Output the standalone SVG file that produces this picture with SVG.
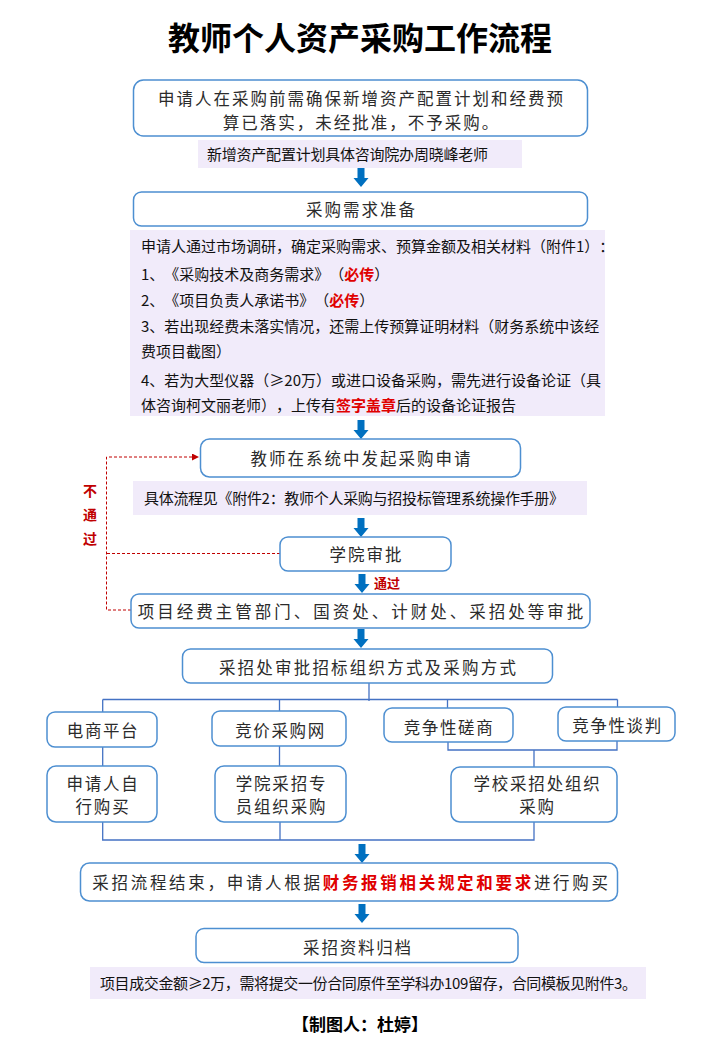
<svg xmlns="http://www.w3.org/2000/svg" width="720" height="1040" viewBox="0 0 720 1040">
<defs>
<style>
text{text-spacing-trim:space-all}
.box{fill:#fff;stroke:#4d8fd1;stroke-width:1.5}
.note{fill:#f1ebfa}
.lbl{font-family:"Noto Sans CJK SC","Noto Sans",sans-serif;font-size:16.5px;fill:#2b2b2b;letter-spacing:2px;text-anchor:middle}
.nt{font-family:"Noto Sans CJK SC","Noto Sans",sans-serif;font-size:15px;fill:#111}
.red{fill:#e00000;font-weight:bold}
.ln{fill:none;stroke:#4472c4;stroke-width:1.3}
.dash{fill:none;stroke:#c00000;stroke-width:1;stroke-dasharray:3 2}
.ba{fill:#0070c0}
.title{font-family:"Noto Sans CJK SC","Noto Sans",sans-serif;font-size:32px;font-weight:bold;fill:#000;text-anchor:middle}
.rt{font-family:"Noto Sans CJK SC","Noto Sans",sans-serif;font-weight:bold;fill:#c00000;text-anchor:middle}
</style>
<path id="ba" d="M-3.5,0H3.5V10H7.5L0,19L-7.5,10H-3.5Z"/>
<marker id="rh" viewBox="0 0 10 10" refX="10" refY="5" markerWidth="8" markerHeight="7" markerUnits="userSpaceOnUse" orient="auto">
<path d="M0,0L10,5L0,10Z" fill="#c00000"/>
</marker>
</defs>
<rect width="720" height="1040" fill="#fff"/>

<text class="title" x="360" y="50">教师个人资产采购工作流程</text>

<g id="connectors">
<use href="#ba" class="ba" x="361" y="168"/>
<use href="#ba" class="ba" x="361" y="420"/>
<use href="#ba" class="ba" x="361" y="518"/>
<use href="#ba" class="ba" x="362" y="574"/>
<use href="#ba" class="ba" x="361" y="629"/>
<use href="#ba" class="ba" x="362" y="844"/>
<use href="#ba" class="ba" x="362" y="904"/>
<text class="rt" x="387" y="587.5" font-size="13">通过</text>
<path class="ln" d="M369,683V701M102.7,699.5H617.5M102.7,699.5V712M279.5,699.5V711M447.5,699.5V708M617.5,699.5V707"/>
<path class="ln" d="M102.7,747V766M279.5,746V766M448,742V750H617V741M534,750V767"/>
<path class="ln" d="M102.7,822V840H534V822M280,822V840"/>
<path class="dash" d="M131,610H106.5V457H199" marker-end="url(#rh)"/>
<path class="dash" d="M280,553.5H106.5"/>
<text class="rt" x="90" y="496" font-size="14">不</text>
<text class="rt" x="90" y="519.5" font-size="14">通</text>
<text class="rt" x="90" y="543.5" font-size="14">过</text>
</g>

<g id="n1">
<rect class="box" x="133.5" y="80" width="454" height="56" rx="10"/>
<text class="lbl" x="361.5" y="105">申请人在采购前需确保新增资产配置计划和经费预</text>
<text class="lbl" x="361.5" y="128.5">算已落实，未经批准，不予采购。</text>
</g>

<g id="note1">
<rect class="note" x="198" y="140" width="324" height="28"/>
<text class="nt" x="207" y="160" font-size="14.7" textLength="281" lengthAdjust="spacing">新增资产配置计划具体咨询院办周晓峰老师</text>
</g>

<g id="n2">
<rect class="box" x="133.5" y="192" width="454" height="34" rx="8"/>
<text class="lbl" x="361.5" y="215.5">采购需求准备</text>
</g>

<g id="note2">
<rect class="note" x="130" y="230" width="475" height="186"/>
<text class="nt" x="141" y="252">申请人通过市场调研，确定采购需求、预算金额及相关材料（附件1）：</text>
<text class="nt" x="141" y="279.5">1、《采购技术及商务需求》（<tspan class="red">必传</tspan>）</text>
<text class="nt" x="141" y="306">2、《项目负责人承诺书》（<tspan class="red">必传</tspan>）</text>
<text class="nt" x="141" y="332">3、若出现经费未落实情况，还需上传预算证明材料（财务系统中该经</text>
<text class="nt" x="141" y="357">费项目截图）</text>
<text class="nt" x="141" y="385.5">4、若为大型仪器（≥20万）或进口设备采购，需先进行设备论证（具</text>
<text class="nt" x="141" y="411">体咨询柯文丽老师），上传有<tspan class="red">签字盖章</tspan>后的设备论证报告</text>
</g>

<g id="n3">
<rect class="box" x="200.5" y="439" width="320" height="38" rx="9"/>
<text class="lbl" x="361.5" y="465">教师在系统中发起采购申请</text>
</g>

<g id="note3">
<rect class="note" x="133" y="481" width="454" height="34"/>
<text class="nt" x="144" y="504" font-size="14.6" textLength="420" lengthAdjust="spacing">具体流程见《附件2：教师个人采购与招投标管理系统操作手册》</text>
</g>

<g id="n4">
<rect class="box" x="280" y="537" width="171" height="34" rx="8"/>
<text class="lbl" x="366.5" y="561">学院审批</text>
</g>

<g id="n5">
<rect class="box" x="131" y="594" width="459" height="34" rx="8"/>
<text class="lbl" x="362" y="618" style="letter-spacing:3px">项目经费主管部门、国资处、计财处、采招处等审批</text>
</g>

<g id="n6">
<rect class="box" x="182.5" y="649" width="370" height="34" rx="8"/>
<text class="lbl" x="368.5" y="674" style="letter-spacing:2.2px">采招处审批招标组织方式及采购方式</text>
</g>

<g id="n7">
<rect class="box" x="47" y="712" width="110" height="35" rx="8"/>
<text class="lbl" x="103" y="737" style="letter-spacing:1.6px">电商平台</text>
</g>
<g id="n8">
<rect class="box" x="212" y="711" width="134" height="35" rx="8"/>
<text class="lbl" x="280.5" y="737" style="letter-spacing:1.6px">竞价采购网</text>
</g>
<g id="n9">
<rect class="box" x="384" y="708" width="129" height="34" rx="8"/>
<text class="lbl" x="449" y="734" style="letter-spacing:1.6px">竞争性磋商</text>
</g>
<g id="n10">
<rect class="box" x="558" y="707" width="117" height="34" rx="8"/>
<text class="lbl" x="617.5" y="732" style="letter-spacing:1.6px">竞争性谈判</text>
</g>

<g id="n11">
<rect class="box" x="47" y="766" width="110" height="56" rx="9"/>
<text class="lbl" x="103" y="790" style="letter-spacing:1.8px">申请人自</text>
<text class="lbl" x="103" y="813" style="letter-spacing:1.8px">行购买</text>
</g>
<g id="n12">
<rect class="box" x="215" y="766" width="131" height="56" rx="9"/>
<text class="lbl" x="281.5" y="790" style="letter-spacing:1.8px">学院采招专</text>
<text class="lbl" x="281.5" y="813" style="letter-spacing:1.8px">员组织采购</text>
</g>
<g id="n13">
<rect class="box" x="451" y="767" width="166" height="55" rx="9"/>
<text class="lbl" x="537.5" y="790" style="letter-spacing:1.8px">学校采招处组织</text>
<text class="lbl" x="537.5" y="813" style="letter-spacing:1.8px">采购</text>
</g>

<g id="n14">
<rect class="box" x="80.5" y="863" width="537" height="38" rx="9"/>
<text class="lbl" x="351.5" y="889" style="letter-spacing:2.7px">采招流程结束，申请人根据<tspan class="red">财务报销相关规定和要求</tspan>进行购买</text>
</g>

<g id="n15">
<rect class="box" x="196" y="928.5" width="322" height="34" rx="8"/>
<text class="lbl" x="358" y="954" style="letter-spacing:1.8px">采招资料归档</text>
</g>

<g id="note4">
<rect class="note" x="90" y="967" width="556" height="32"/>
<text class="nt" x="100" y="989" font-size="14.8" textLength="537" lengthAdjust="spacing">项目成交金额≥2万，需将提交一份合同原件至学科办109留存，合同模板见附件3。</text>
</g>

<text x="360" y="1030.5" font-family="Noto Sans CJK SC, Noto Sans, sans-serif" font-size="17" font-weight="bold" text-anchor="middle" fill="#000">【制图人：杜婷】</text>
</svg>
